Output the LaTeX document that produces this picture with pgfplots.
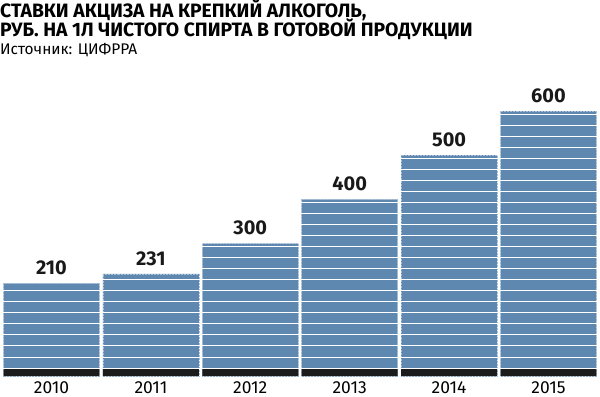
\documentclass[border=0pt]{standalone}
\usepackage{fontspec}
\setmainfont{Fira Sans}
\newfontfamily\titlefont{Fira Sans}
\newfontfamily\numfont{Fira Sans}
\usepackage{pgfplots}
\pgfplotsset{compat=1.18}
\definecolor{barblue}{RGB}{95,136,177}
\definecolor{band}{RGB}{28,28,28}
\begin{document}
\begin{tikzpicture}
\begin{axis}[
  at={(0,0)}, anchor=south west,
  scale only axis, width=600bp, height=265bp,
  xmin=-0.518, xmax=5.518, ymin=0, ymax=600,
  ybar, bar width=0.965, bar shift=0pt,
  axis line style={draw=none},
  major tick length=0pt,
  /pgf/number format/assume math mode=true,
  xtick={0,1,2,3,4,5},
  xticklabels={2010,2011,2012,2013,2014,2015},
  xticklabel style={font=\numfont\fontsize{17.5}{17.5}\selectfont, anchor=north, inner sep=0pt, yshift=-5bp},
  ytick={18,43,...,593}, yticklabels={},
  ymajorgrids, grid style={white, line width=1bp},
  axis on top,
  clip=false,
]
\addplot[fill=barblue, draw=barblue!55!white, densely dotted, line width=0.5bp,
  nodes near coords,
  every node near coord/.append style={font=\numfont\bfseries\fontsize{20}{20}\selectfont, text=black!90, inner sep=0pt, anchor=south, yshift=8bp, solid}]
  coordinates {(0,210) (1,231) (2,300) (3,400) (4,500) (5,600)};
\addplot[fill=band, draw=none]
  coordinates {(0,16) (1,16) (2,16) (3,16) (4,16) (5,16)};
\end{axis}
\node[anchor=base west, inner sep=0pt] at (0,358bp) {\titlefont\bfseries\fontsize{19.4}{19.4}\selectfont СТАВКИ АКЦИЗА НА КРЕПКИЙ АЛКОГОЛЬ,};
\node[anchor=base west, inner sep=0pt] at (0,339bp) {\titlefont\bfseries\fontsize{19.4}{19.4}\selectfont РУБ. НА 1Л ЧИСТОГО СПИРТА В ГОТОВОЙ ПРОДУКЦИИ};
\node[anchor=base west, inner sep=0pt] at (0,321bp) {\titlefont\fontsize{15.5}{15.5}\selectfont Источник: ЦИФРРА};
\pgfresetboundingbox
\path[use as bounding box] (0,-21bp) rectangle (600bp,376bp);
\end{tikzpicture}
\end{document}
